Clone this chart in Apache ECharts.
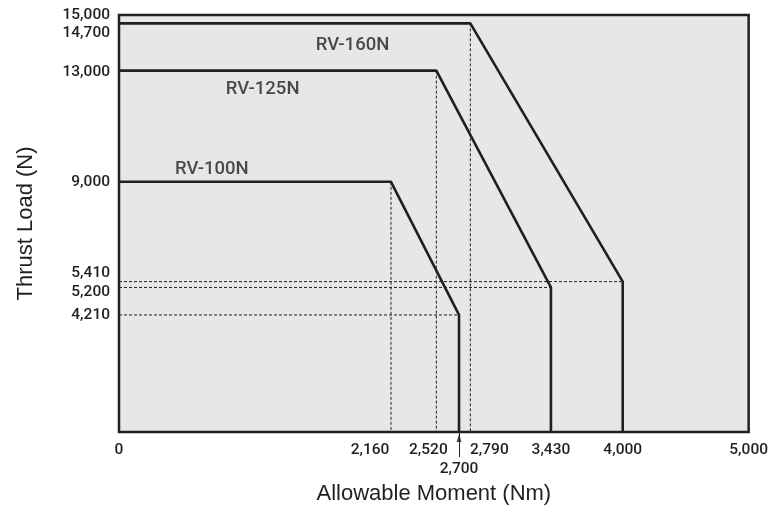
<!DOCTYPE html>
<html>
<head>
<meta charset="utf-8">
<script src="https://cdn.jsdelivr.net/npm/echarts@6/dist/echarts.min.js"></script>
<style>html,body{margin:0;padding:0;background:#fff;}#c{width:771px;height:510px;}</style>
</head>
<body>
<div id="c"></div>
<script>
// ---- data ----
const models = ['RV-100N', 'RV-125N', 'RV-160N'];
const rv100 = [[0, 9000], [2160, 9000], [2700, 4210], [2700, 0]];
const rv125 = [[0, 13000], [2520, 13000], [3430, 5200], [3430, 0]];
const rv160 = [[0, 14700], [2790, 14700], [4000, 5410], [4000, 0]];
const xTicks = [0, 2160, 2520, 2790, 3430, 4000, 5000];
const xArrowTick = [2700];
const yTicks = [4210, 5200, 5410, 9000, 13000, 14700, 15000];
const labelPoints = [[737, 9457], [1141, 12336], [1854, 13920]];

// ---- layout helpers (label nudges to avoid overlap, as in reference) ----
const xNudge = {2160: 'l21', 2520: 'l8', 2790: 'r19'};
const yNudge = {14700: 'd10', 13000: 'd2', 5410: 'u8', 5200: 'd5'};
const ink = '#231f20';
const fmt = v => Number(v).toLocaleString('en-US');
const tickFont = {fontFamily: "Roboto, 'Liberation Sans', Arial, sans-serif", fontWeight: 500, fontSize: 15.5, color: ink};
const nameFont = {fontFamily: "'Liberation Sans', Arial, sans-serif", fontSize: 22, color: ink};

const curves = [rv100, rv125, rv160];
const series = [];
// guide (dotted) lines derived from the curves
curves.forEach(c => {
  const knee = c[1], end = c[2];
  [[[knee[0], knee[1]], [knee[0], 0]], [[0, end[1]], [end[0], end[1]]]].forEach(seg => {
    series.push({
      type: 'line', data: seg, symbol: 'none', silent: true, z: 2,
      lineStyle: {color: ink, width: 1, type: [3, 2]}
    });
  });
});
curves.forEach((c, i) => {
  series.push({
    type: 'line', name: models[i], data: c, symbol: 'none', silent: true, z: 5,
    lineStyle: {color: ink, width: 2.6}
  });
});
series.push({
  type: 'scatter', silent: true, z: 6, symbol: 'circle', symbolSize: 1,
  itemStyle: {color: 'rgba(0,0,0,0)'},
  data: labelPoints.map((p, i) => ({value: p, name: models[i]})),
  label: {show: true, position: 'inside', formatter: p => p.name,
    fontFamily: "Roboto, 'Liberation Sans', Arial, sans-serif", fontWeight: 500, fontSize: 18.5, color: ink}
});
// arrowhead for the 2,700 marker
series.push({
  type: 'scatter', silent: true, z: 10, clip: false, symbol: 'triangle',
  symbolSize: [5, 8], symbolOffset: [0, 6], itemStyle: {color: ink},
  data: xArrowTick.map(v => [v, 0])
});

const chart = echarts.init(document.getElementById('c'), null, {renderer: 'canvas'});
chart.setOption({
  animation: false,
  grid: {left: 119, right: 21, top: 15, bottom: 78, show: true,
    backgroundColor: '#e6e7e8', borderColor: ink, borderWidth: 2.5},
  xAxis: [{
    type: 'value', min: 0, max: 5000,
    name: 'Allowable Moment (Nm)', nameLocation: 'middle', nameGap: 51,
    nameTextStyle: nameFont,
    axisLine: {show: false}, axisTick: {show: false}, splitLine: {show: false},
    axisLabel: Object.assign({customValues: xTicks, margin: 10,
      formatter: v => xNudge[v] ? `{${xNudge[v]}|${fmt(v)}}` : fmt(v),
      rich: {
        l21: Object.assign({padding: [0, 42, 0, 0]}, tickFont),
        l8: Object.assign({padding: [0, 16, 0, 0]}, tickFont),
        r19: Object.assign({padding: [0, 0, 0, 38]}, tickFont)
      }}, tickFont)
  }, {
    type: 'value', min: 0, max: 5000, position: 'bottom',
    axisLine: {show: false}, splitLine: {show: false},
    axisTick: {show: true, customValues: xArrowTick, length: 25, lineStyle: {color: ink, width: 1}},
    axisLabel: Object.assign({customValues: xArrowTick, margin: 29, formatter: v => fmt(v)}, tickFont)
  }],
  yAxis: {
    type: 'value', min: 0, max: 15000,
    name: 'Thrust Load (N)', nameLocation: 'middle', nameGap: 82,
    nameTextStyle: nameFont,
    axisLine: {show: false}, axisTick: {show: false}, splitLine: {show: false},
    axisLabel: Object.assign({customValues: yTicks, margin: 9,
      formatter: v => yNudge[v] ? `{${yNudge[v]}|${fmt(v)}}` : fmt(v),
      rich: {
        d10: Object.assign({padding: [20, 0, 0, 0]}, tickFont),
        d2: Object.assign({padding: [4, 0, 0, 0]}, tickFont),
        u8: Object.assign({padding: [0, 0, 16, 0]}, tickFont),
        d5: Object.assign({padding: [10, 0, 0, 0]}, tickFont)
      }}, tickFont)
  },
  series: series
});
</script>
</body>
</html>
